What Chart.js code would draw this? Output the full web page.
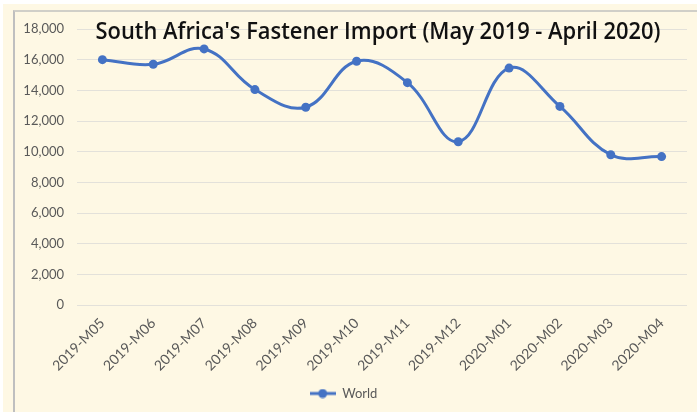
<!DOCTYPE html>
<html>
<head>
<meta charset="utf-8">
<script src="https://cdn.jsdelivr.net/npm/chart.js@4/dist/chart.umd.min.js"></script>
<style>
  html, body { margin: 0; padding: 0; background: #ffffff; }
  #wrap { position: relative; width: 697px; height: 412px; overflow: hidden; }
  #bg { position: absolute; left: 3px; top: 4px; right: 0; bottom: 0; background: #fef8e4; }
  #frame { position: absolute; left: 13px; top: 10px; right: -5px; bottom: -5px; border-left: 2px solid #bfbfbf; border-top: 2px solid #d0cfc8; }
  #chart1 { position: absolute; left: 0; top: 0; }
</style>
</head>
<body>
<div id="wrap">
  <div id="bg"></div>
  <div id="frame"></div>
  <canvas id="chart1" width="697" height="412"></canvas>
</div>
<script>
  // Datos
  const months = ['2019-M05', '2019-M06', '2019-M07', '2019-M08', '2019-M09', '2019-M10',
                  '2019-M11', '2019-M12', '2020-M01', '2020-M02', '2020-M03', '2020-M04'];
  const worldImports = [16000, 15700, 16700, 14050, 12900, 15900, 14500, 10650, 15450, 12950, 9800, 9680];
  const chartTitle = "South Africa's Fastener Import (May 2019 - April 2020)";
  const seriesName = 'World';

  const blue = '#4472c4';
  const gray = '#595959';

  // icono de leyenda: linea con punto
  const legendIcon = document.createElement('canvas');
  legendIcon.width = 26;
  legendIcon.height = 10;
  const ictx = legendIcon.getContext('2d');
  ictx.strokeStyle = blue;
  ictx.lineWidth = 3;
  ictx.beginPath();
  ictx.moveTo(0, 5);
  ictx.lineTo(26, 5);
  ictx.stroke();
  ictx.fillStyle = blue;
  ictx.beginPath();
  ictx.arc(13, 5, 4.5, 0, Math.PI * 2);
  ictx.fill();

  // titulo encima del area del grafico (como en Excel)
  const overlayTitle = {
    id: 'overlayTitle',
    afterDraw(chart) {
      const ctx = chart.ctx;
      ctx.save();
      ctx.font = '600 23px "Open Sans"';
      ctx.fillStyle = '#111111';
      ctx.textBaseline = 'alphabetic';
      const w = ctx.measureText(chartTitle).width;
      const target = 565;
      ctx.translate(378, 39);
      ctx.scale(target / w, 1);
      ctx.textAlign = 'center';
      ctx.fillText(chartTitle, 0, 0);
      ctx.restore();
    }
  };

  const ctx = document.getElementById('chart1').getContext('2d');
  new Chart(ctx, {
    type: 'line',
    data: {
      labels: months,
      datasets: [{
        label: seriesName,
        data: worldImports,
        borderColor: blue,
        backgroundColor: blue,
        borderWidth: 3,
        pointRadius: 4.5,
        pointBackgroundColor: blue,
        pointBorderWidth: 0,
        tension: 0.4,
        fill: false
      }]
    },
    options: {
      responsive: false,
      animation: false,
      layout: { padding: { top: 29, right: 10, left: 0, bottom: 2 } },
      plugins: {
        title: { display: false },
        tooltip: { enabled: false },
        legend: {
          position: 'bottom',
          labels: {
            usePointStyle: true,
            pointStyleWidth: 26,
            color: gray,
            font: { family: 'Lato', size: 13 },
            padding: 8,
            generateLabels: (chart) => [{
              text: seriesName,
              pointStyle: legendIcon,
              fontColor: gray,
              lineWidth: 0,
              datasetIndex: 0
            }]
          }
        }
      },
      scales: {
        x: {
          offset: true,
          grid: { display: false, drawTicks: false },
          border: { display: false },
          ticks: {
            color: gray,
            font: { family: 'Lato', size: 14 },
            maxRotation: 45,
            minRotation: 45,
            padding: 10
          },
          afterFit(scale) { scale.height = 74; }
        },
        y: {
          min: 0,
          max: 18000,
          grid: { color: '#e3e1da', lineWidth: 1, drawTicks: false },
          border: { display: false },
          ticks: {
            stepSize: 2000,
            color: gray,
            font: { family: 'Lato', size: 13 },
            padding: 13,
            callback: (v) => v.toLocaleString('en-US')
          },
          afterFit(scale) { scale.width = 77; }
        }
      }
    },
    plugins: [overlayTitle]
  });
</script>
</body>
</html>
